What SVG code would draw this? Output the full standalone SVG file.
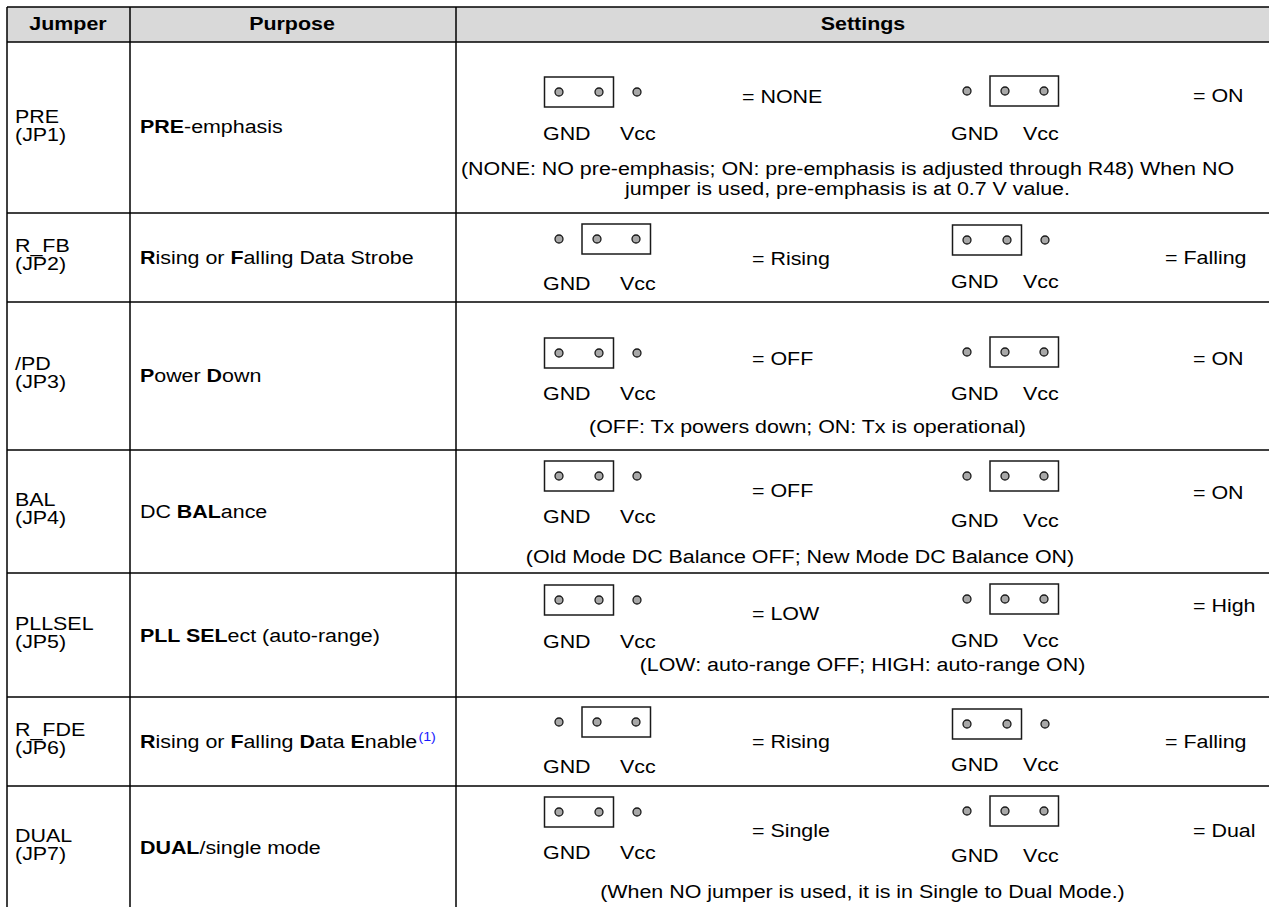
<svg xmlns="http://www.w3.org/2000/svg" width="1269" height="907" viewBox="0 0 1269 907">
<style>
.t{font-family:"Liberation Sans",Arial,Helvetica,sans-serif;font-size:18px;fill:#000}
.b{font-weight:bold}
.m{text-anchor:middle}
.grid line{stroke:#000;stroke-width:1.5}
.box{fill:none;stroke:#1a1a1a;stroke-width:1.5}
.pin{fill:#a8a8a8;stroke:#1a1a1a;stroke-width:1.3}
.sup{font-size:12px;fill:#1a1aff}
</style>
<defs>
<g id="jA"><rect class="box" x="-14.5" y="-15" width="69" height="30"/><circle class="pin" cx="0" cy="0" r="4"/><circle class="pin" cx="40" cy="0" r="4"/><circle class="pin" cx="78" cy="0" r="4"/></g>
<g id="jB"><rect class="box" x="23" y="-15" width="68.5" height="30"/><circle class="pin" cx="0" cy="0" r="4"/><circle class="pin" cx="38" cy="0" r="4"/><circle class="pin" cx="77" cy="0" r="4"/></g>
</defs>
<rect x="7" y="7" width="1263" height="35" fill="#d9d9d9"/>
<g class="grid" id="grid">
<line x1="7" y1="7" x2="1270" y2="7"/>
<line x1="7" y1="42" x2="1270" y2="42"/>
<line x1="7" y1="213" x2="1270" y2="213"/>
<line x1="7" y1="302" x2="1270" y2="302"/>
<line x1="7" y1="450" x2="1270" y2="450"/>
<line x1="7" y1="573" x2="1270" y2="573"/>
<line x1="7" y1="697" x2="1270" y2="697"/>
<line x1="7" y1="786" x2="1270" y2="786"/>
<line x1="7" y1="7" x2="7" y2="910"/>
<line x1="130" y1="7" x2="130" y2="910"/>
<line x1="456" y1="7" x2="456" y2="910"/>
</g>
<g id="jumpers">
<use href="#jA" x="559" y="92"/><use href="#jB" x="967" y="91"/>
<use href="#jB" x="559" y="239"/><use href="#jA" x="967" y="240"/>
<use href="#jA" x="559" y="353"/><use href="#jB" x="967" y="352"/>
<use href="#jA" x="559" y="476"/><use href="#jB" x="967" y="476"/>
<use href="#jA" x="559" y="600"/><use href="#jB" x="967" y="599"/>
<use href="#jB" x="559" y="722"/><use href="#jA" x="967" y="724"/>
<use href="#jA" x="559" y="812"/><use href="#jB" x="967" y="811"/>
</g>
<g transform="scale(1.19 1)" class="t">
<g id="header">
<text class="t b m" x="57.14" y="30">Jumper</text>
<text class="t b m" x="245.38" y="30">Purpose</text>
<text class="t b m" x="725.21" y="30">Settings</text>
</g>
<g id="row1">
<text class="t" x="12.61" y="123">PRE</text><text class="t" x="12.61" y="141">(JP1)</text>
<text class="t" x="117.65" y="133"><tspan class="b">PRE</tspan>-emphasis</text>
<text class="t" x="623.53" y="103">= NONE</text>
<text class="t" x="1002.52" y="102">= ON</text>
<text class="t" x="456.3" y="140">GND</text><text class="t" x="521.01" y="140">Vcc</text>
<text class="t" x="799.16" y="140">GND</text><text class="t" x="859.66" y="140">Vcc</text>
<text class="t m" x="712.18" y="175">(NONE: NO pre-emphasis; ON: pre-emphasis is adjusted through R48) When NO</text>
<text class="t m" x="712.18" y="195.5">jumper is used, pre-emphasis is at 0.7 V value.</text>
</g>
<g id="row2">
<text class="t" x="12.61" y="252">R_FB</text><text class="t" x="12.61" y="270">(JP2)</text>
<text class="t" x="117.65" y="264"><tspan class="b">R</tspan>ising or <tspan class="b">F</tspan>alling Data Strobe</text>
<text class="t" x="631.93" y="265">= Rising</text>
<text class="t" x="978.99" y="264">= Falling</text>
<text class="t" x="456.3" y="290">GND</text><text class="t" x="521.01" y="290">Vcc</text>
<text class="t" x="799.16" y="288">GND</text><text class="t" x="859.66" y="288">Vcc</text>
</g>
<g id="row3">
<text class="t" x="12.61" y="370">/PD</text><text class="t" x="12.61" y="388">(JP3)</text>
<text class="t" x="117.65" y="382"><tspan class="b">P</tspan>ower <tspan class="b">D</tspan>own</text>
<text class="t" x="631.93" y="365">= OFF</text>
<text class="t" x="1002.52" y="365">= ON</text>
<text class="t" x="456.3" y="400">GND</text><text class="t" x="521.01" y="400">Vcc</text>
<text class="t" x="799.16" y="400">GND</text><text class="t" x="859.66" y="400">Vcc</text>
<text class="t m" x="678.57" y="433">(OFF: Tx powers down; ON: Tx is operational)</text>
</g>
<g id="row4">
<text class="t" x="12.61" y="506">BAL</text><text class="t" x="12.61" y="524">(JP4)</text>
<text class="t" x="117.65" y="518">DC <tspan class="b">BAL</tspan>ance</text>
<text class="t" x="631.93" y="497">= OFF</text>
<text class="t" x="1002.52" y="499">= ON</text>
<text class="t" x="456.3" y="523">GND</text><text class="t" x="521.01" y="523">Vcc</text>
<text class="t" x="799.16" y="527">GND</text><text class="t" x="859.66" y="527">Vcc</text>
<text class="t m" x="672.27" y="563">(Old Mode DC Balance OFF; New Mode DC Balance ON)</text>
</g>
<g id="row5">
<text class="t" x="12.61" y="630">PLLSEL</text><text class="t" x="12.61" y="648">(JP5)</text>
<text class="t" x="117.65" y="642"><tspan class="b">PLL SEL</tspan>ect (auto-range)</text>
<text class="t" x="631.93" y="620">= LOW</text>
<text class="t" x="1002.52" y="612">= High</text>
<text class="t" x="456.3" y="648">GND</text><text class="t" x="521.01" y="648">Vcc</text>
<text class="t" x="799.16" y="647">GND</text><text class="t" x="859.66" y="647">Vcc</text>
<text class="t m" x="724.79" y="671">(LOW: auto-range OFF; HIGH: auto-range ON)</text>
</g>
<g id="row6">
<text class="t" x="12.61" y="736">R_FDE</text><text class="t" x="12.61" y="754">(JP6)</text>
<text class="t" x="117.65" y="748"><tspan class="b">R</tspan>ising or <tspan class="b">F</tspan>alling <tspan class="b">D</tspan>ata <tspan class="b">E</tspan>nable<tspan class="sup" dx="1" dy="-7">(1)</tspan></text>
<text class="t" x="631.93" y="748">= Rising</text>
<text class="t" x="978.99" y="748">= Falling</text>
<text class="t" x="456.3" y="773">GND</text><text class="t" x="521.01" y="773">Vcc</text>
<text class="t" x="799.16" y="771">GND</text><text class="t" x="859.66" y="771">Vcc</text>
</g>
<g id="row7">
<text class="t" x="12.61" y="842">DUAL</text><text class="t" x="12.61" y="860">(JP7)</text>
<text class="t" x="117.65" y="854"><tspan class="b">DUAL</tspan>/single mode</text>
<text class="t" x="631.93" y="837">= Single</text>
<text class="t" x="1002.52" y="837">= Dual</text>
<text class="t" x="456.3" y="859">GND</text><text class="t" x="521.01" y="859">Vcc</text>
<text class="t" x="799.16" y="862">GND</text><text class="t" x="859.66" y="862">Vcc</text>
<text class="t m" x="724.79" y="898">(When NO jumper is used, it is in Single to Dual Mode.)</text>
</g>
</g>
</svg>
